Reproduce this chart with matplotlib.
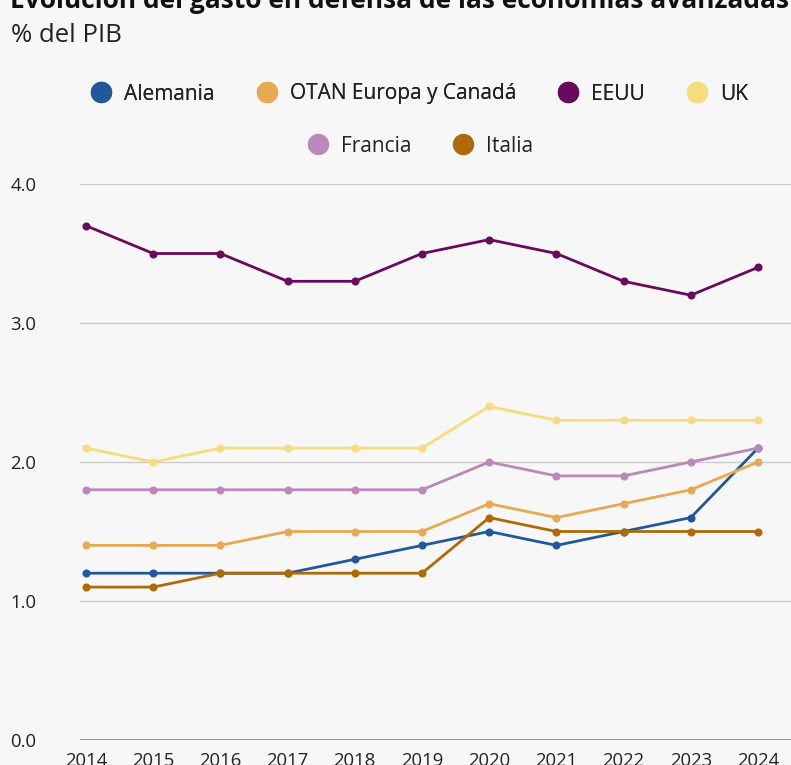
import matplotlib
matplotlib.use("Agg")
import matplotlib.pyplot as plt
from matplotlib.lines import Line2D

years = [2014, 2015, 2016, 2017, 2018, 2019, 2020, 2021, 2022, 2023, 2024]
alemania = [1.2, 1.2, 1.2, 1.2, 1.3, 1.4, 1.5, 1.4, 1.5, 1.6, 2.1]
otan = [1.4, 1.4, 1.4, 1.5, 1.5, 1.5, 1.7, 1.6, 1.7, 1.8, 2.0]
eeuu = [3.7, 3.5, 3.5, 3.3, 3.3, 3.5, 3.6, 3.5, 3.3, 3.2, 3.4]
uk = [2.1, 2.0, 2.1, 2.1, 2.1, 2.1, 2.4, 2.3, 2.3, 2.3, 2.3]
francia = [1.8, 1.8, 1.8, 1.8, 1.8, 1.8, 2.0, 1.9, 1.9, 2.0, 2.1]
italia = [1.1, 1.1, 1.2, 1.2, 1.2, 1.2, 1.6, 1.5, 1.5, 1.5, 1.5]

names = ["Alemania", "OTAN Europa y Canadá", "EEUU", "UK", "Francia", "Italia"]
series = [alemania, otan, eeuu, uk, francia, italia]
colors = ["#22589a", "#e8a955", "#6a0a5c", "#f6dc7e", "#bb88b9", "#ae6a06"]
yticks = [0.0, 1.0, 2.0, 3.0, 4.0]

plt.rcParams['font.family'] = ['Open Sans', 'DejaVu Sans']
bg = "#f7f7f7"
W, H = 791, 765
fig = plt.figure(figsize=(W / 100, H / 100), dpi=100, facecolor=bg)
ax = fig.add_axes([80 / W, (H - 740) / H, (791 - 80) / W, 556 / H], facecolor=bg)

for name, vals, c in zip(names, series, colors):
    ax.plot(years, vals, color=c, lw=2.0, marker='o', ms=4.8, label=name,
            solid_capstyle='round', clip_on=False)

ax.set_xlim(2014 - 6 / 67.2, 2024 + 33 / 67.2)
ax.set_ylim(0, 4)
ax.set_yticks(yticks)
ax.set_yticklabels([f"{v:.1f}" for v in yticks])
ax.set_xticks(years)
ax.set_xticklabels([str(y) for y in years])
ax.grid(axis='y', color='#cccccc', lw=1)
ax.set_axisbelow(True)
for s in ax.spines.values():
    s.set_visible(False)
ax.axhline(0, color='#888888', lw=1.2, zorder=1)
ax.tick_params(axis='both', length=0, labelsize=13.3, colors='#222222')
ax.tick_params(axis='y', pad=50)
for lab in ax.get_yticklabels():
    lab.set_horizontalalignment('left')
ax.tick_params(axis='x', pad=9)

fig.text(10 / W, 1 - 8 / H, "Evolución del gasto en defensa de las economías avanzadas",
         fontsize=19, fontweight='bold', color='#111111', va='baseline', ha='left')
fig.text(11 / W, 1 - 42 / H, "% del PIB", fontsize=18.5, color='#222222',
         va='baseline', ha='left')

handles = [Line2D([], [], color=c, marker='o', ls='none', ms=14.4) for c in colors]
leg_kw = dict(frameon=False, fontsize=15, handlelength=0.9, handletextpad=0.65,
              columnspacing=2.05, labelcolor='#222222', loc='center')
l1 = fig.legend(handles[:4], names[:4], ncol=4, bbox_to_anchor=(420 / W, 1 - 94 / H), **leg_kw)
fig.add_artist(l1)
fig.legend(handles[4:], names[4:], ncol=2, bbox_to_anchor=(421 / W, 1 - 146 / H), **leg_kw)

fig.savefig("out.png", dpi=100, facecolor=bg)
